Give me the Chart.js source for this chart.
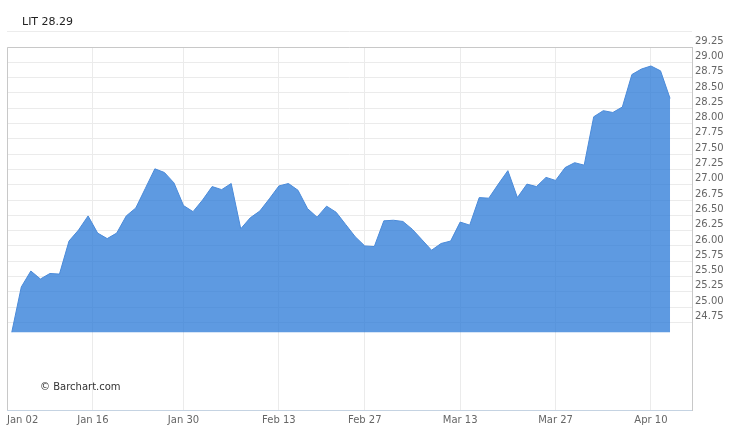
<!DOCTYPE html>
<html>
<head>
<meta charset="utf-8">
<title>LIT</title>
<script src="https://cdn.jsdelivr.net/npm/chart.js@4.4.1/dist/chart.umd.min.js"></script>
<style>
    html, body { margin: 0; padding: 0; background: #ffffff; }
    #wrap { width: 750px; height: 433px; }
</style>
</head>
<body>
<div id="wrap"><canvas id="litChart" width="750" height="433"></canvas></div>
<script>
// LIT daily closes, Jan 03 - Apr 12 (trading days only)
const symbol = "LIT";
const lastPrice = "28.29";
const tradingDays = [
    "Jan 03", "Jan 04", "Jan 05", "Jan 06", "Jan 09", "Jan 10", "Jan 11", "Jan 12", "Jan 13",
    "Jan 17", "Jan 18", "Jan 19", "Jan 20", "Jan 23", "Jan 24", "Jan 25", "Jan 26", "Jan 27",
    "Jan 30", "Jan 31", "Feb 01", "Feb 02", "Feb 03", "Feb 06", "Feb 07", "Feb 08", "Feb 09",
    "Feb 10", "Feb 13", "Feb 14", "Feb 15", "Feb 16", "Feb 17", "Feb 21", "Feb 22", "Feb 23",
    "Feb 24", "Feb 27", "Feb 28", "Mar 01", "Mar 02", "Mar 03", "Mar 06", "Mar 07", "Mar 08",
    "Mar 09", "Mar 10", "Mar 13", "Mar 14", "Mar 15", "Mar 16", "Mar 17", "Mar 20", "Mar 21",
    "Mar 22", "Mar 23", "Mar 24", "Mar 27", "Mar 28", "Mar 29", "Mar 30", "Mar 31", "Apr 03",
    "Apr 04", "Apr 05", "Apr 06", "Apr 07", "Apr 10", "Apr 11", "Apr 12"
];
const closes = [
    24.59, 25.33, 25.59, 25.46, 25.55, 25.54, 26.08, 26.26, 26.49,
    26.21, 26.12, 26.21, 26.49, 26.62, 26.94, 27.26, 27.20, 27.03,
    26.66, 26.56, 26.75, 26.97, 26.92, 27.02, 26.28, 26.46, 26.57,
    26.77, 26.98, 27.02, 26.91, 26.61, 26.47, 26.65, 26.55, 26.35,
    26.15, 26.00, 25.99, 26.41, 26.42, 26.40, 26.27, 26.10, 25.93,
    26.04, 26.08, 26.39, 26.34, 26.79, 26.78, 27.01, 27.23, 26.79,
    27.01, 26.97, 27.12, 27.07, 27.28, 27.36, 27.32, 28.11, 28.21,
    28.18, 28.27, 28.80, 28.89, 28.94, 28.86, 28.41
];
const xTickLabels = ["Jan 02", "Jan 16", "Jan 30", "Feb 13", "Feb 27", "Mar 13", "Mar 27", "Apr 10"];
const yTickValues = [
    24.75, 25.00, 25.25, 25.50, 25.75, 26.00, 26.25, 26.50, 26.75,
    27.00, 27.25, 27.50, 27.75, 28.00, 28.25, 28.50, 28.75, 29.00, 29.25
];
const fillBase = 24.59;

const monthNum = { Jan: 1, Feb: 2, Mar: 3, Apr: 4 };
const dayKey = (s) => monthNum[s.slice(0, 3)] * 100 + parseInt(s.slice(4), 10);

// label sits on its trading day; a holiday label sits half a day before the next session
const xTickPos = xTickLabels.map(lbl => {
    const idx = tradingDays.findIndex(d => dayKey(d) >= dayKey(lbl));
    return tradingDays[idx] === lbl ? idx : idx - 0.5;
});

const points = closes.map((v, i) => ({ x: i, y: v }));

const extrasPlugin = {
    id: "extras",
    afterDraw(chart) {
        const { ctx, chartArea: a, scales: { x } } = chart;
        ctx.save();

        // top / left frame
        ctx.strokeStyle = "#c8c8c8";
        ctx.lineWidth = 1;
        ctx.beginPath();
        ctx.moveTo(Math.round(a.left) + 0.5, a.bottom);
        ctx.lineTo(Math.round(a.left) + 0.5, Math.round(a.top) + 0.5);
        ctx.lineTo(a.right, Math.round(a.top) + 0.5);
        ctx.stroke();

        // title row
        ctx.fillStyle = "#222222";
        ctx.font = '11px "DejaVu Sans"';
        ctx.textAlign = "left";
        ctx.textBaseline = "middle";
        ctx.fillText(symbol + " " + lastPrice, 22, 22);
        ctx.strokeStyle = "#ececec";
        ctx.beginPath();
        ctx.moveTo(7, 31.5);
        ctx.lineTo(692, 31.5);
        ctx.stroke();

        // watermark
        ctx.fillStyle = "#333333";
        ctx.font = '10px "DejaVu Sans"';
        ctx.fillText("\u00a9 Barchart.com", 40, 387);

        // date labels under the axis
        ctx.fillStyle = "#666666";
        ctx.font = '10px "DejaVu Sans"';
        xTickPos.forEach((pos, i) => {
            const px = x.getPixelForValue(pos);
            const w = ctx.measureText(xTickLabels[i]).width;
            ctx.textAlign = (px - w / 2 < a.left) ? "left" : "center";
            ctx.fillText(xTickLabels[i], px, 420);
        });
        ctx.restore();
    }
};

const ctxLit = document.getElementById("litChart").getContext("2d");
new Chart(ctxLit, {
    type: "line",
    data: {
        datasets: [{
            label: symbol,
            data: points,
            borderColor: "#4a8ad9",
            borderWidth: 1,
            backgroundColor: "rgba(40, 120, 215, 0.75)",
            fill: { value: fillBase },
            pointRadius: 0,
            tension: 0
        }]
    },
    options: {
        responsive: false,
        animation: false,
        layout: { padding: { top: 47, left: 7, right: 0, bottom: 0 } },
        plugins: {
            legend: { display: false },
            tooltip: { enabled: false }
        },
        scales: {
            x: {
                type: "linear",
                min: -0.5,
                max: 71.3,
                afterBuildTicks: (scale) => {
                    scale.ticks = xTickPos.map(v => ({ value: v }));
                },
                afterFit: (scale) => { scale.height = 23; },
                grid: { color: "#ebebeb", drawTicks: false },
                border: { color: "#c5d3e2" },
                ticks: { display: false }
            },
            y: {
                position: "right",
                min: 23.32,
                max: 29.25,
                afterBuildTicks: (scale) => {
                    scale.ticks = yTickValues.map(v => ({ value: v }));
                },
                afterFit: (scale) => { scale.width = 58; },
                grid: { color: "#ebebeb", drawTicks: false },
                border: { color: "#c8c8c8" },
                ticks: {
                    padding: 3,
                    labelOffset: -6,
                    color: "#666666",
                    font: { family: "DejaVu Sans", size: 10 },
                    callback: (v) => Number(v).toFixed(2)
                }
            }
        }
    },
    plugins: [extrasPlugin]
});
</script>
</body>
</html>
